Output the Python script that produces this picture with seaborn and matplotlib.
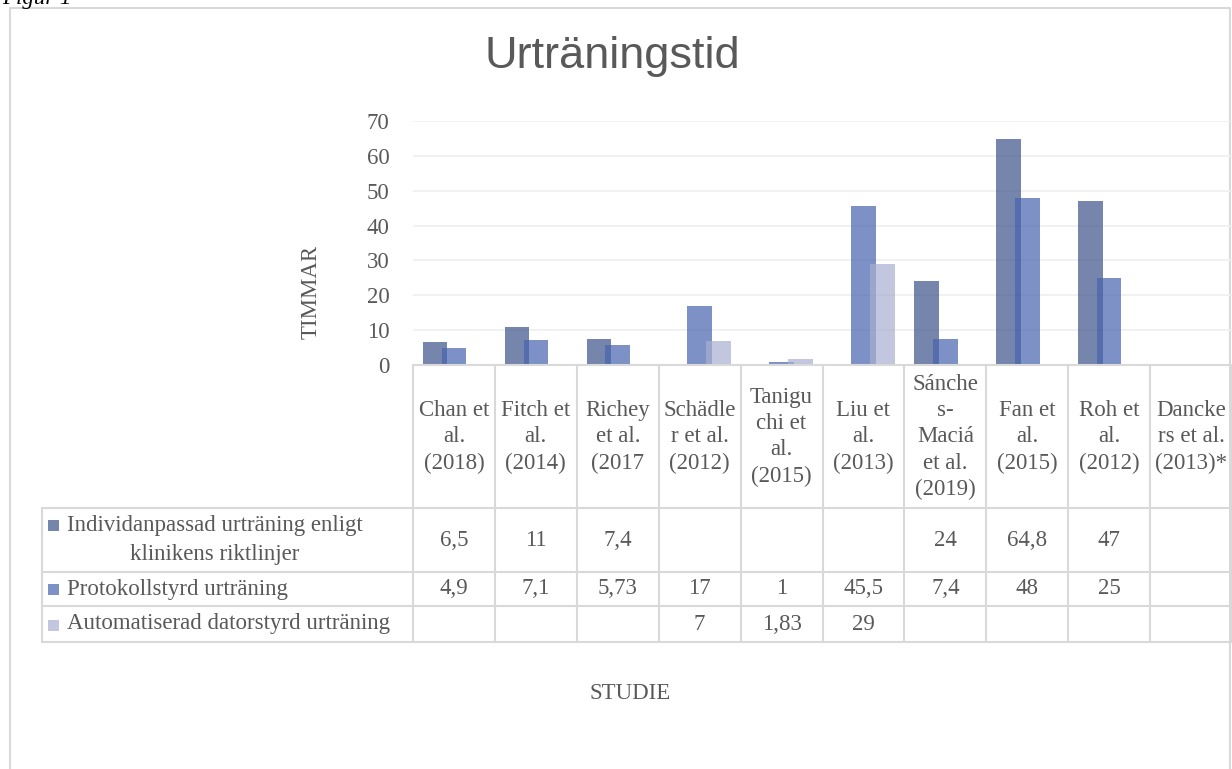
import numpy as np
import pandas as pd
import matplotlib
matplotlib.use('Agg')
import matplotlib.pyplot as plt
import seaborn as sns
from matplotlib.patches import Rectangle
from matplotlib.transforms import blended_transform_factory

studier = ['Chan et\nal.\n(2018)', 'Fitch et\nal.\n(2014)', 'Richey\net al.\n(2017', 'Schädle\nr et al.\n(2012)',
           'Tanigu\nchi et\nal.\n(2015)', 'Liu et\nal.\n(2013)', 'Sánche\ns-\nMaciá\net al.\n(2019)',
           'Fan et\nal.\n(2015)', 'Roh et\nal.\n(2012)', 'Dancke\nrs et al.\n(2013)*']
serier = ['Individanpassad urträning enligt\nklinikens riktlinjer', 'Protokollstyrd urträning',
          'Automatiserad datorstyrd urträning']
individ = [6.5, 11, 7.4, np.nan, np.nan, np.nan, 24, 64.8, 47, np.nan]
protokoll = [4.9, 7.1, 5.73, 17, 1, 45.5, 7.4, 48, 25, np.nan]
automat = [np.nan, np.nan, np.nan, 7, 1.83, 29, np.nan, np.nan, np.nan, np.nan]
yticks = [0, 10, 20, 30, 40, 50, 60, 70]
farger = ['#3B5288', '#4763AE', '#A8AFD0']

grey = '#595959'
linjefarg = '#D9D9D9'

sns.set_style('white')
plt.rcParams['font.family'] = ['Liberation Serif', 'DejaVu Serif']

df = pd.DataFrame({'studie': studier * 3,
                   'serie': np.repeat(serier, len(studier)),
                   'timmar': individ + protokoll + automat})

fig = plt.figure(figsize=(12.32, 7.69), dpi=100)
bg = fig.add_axes([0, 0, 1, 1])
bg.set_xlim(0, 1232)
bg.set_ylim(769, 0)
bg.axis('off')

ax = fig.add_axes([413 / 1232, 1 - 365 / 769, 819 / 1232, 244 / 769])
ax.set_facecolor('none')
sns.barplot(data=df, x='studie', y='timmar', hue='serie', order=studier, hue_order=serier,
            palette=farger, dodge=True, width=0.69, alpha=0.7, saturation=1,
            errorbar=None, legend=False, linewidth=0, ax=ax)
# Excel-style overlapping bars
for p in ax.patches:
    cx = p.get_x() + p.get_width() / 2
    p.set_width(0.30)
    p.set_x(cx - 0.15)

ax.set_xlim(-0.5, len(studier) - 0.5)
ax.set_ylim(0, 70)
ax.set_yticks(yticks)
ax.set_yticklabels([str(t) for t in yticks], fontsize=16.5, color=grey)
ax.tick_params(axis='y', length=0, pad=17)
ax.set_xticks([])
ax.set_axisbelow(True)
ax.yaxis.grid(True, color='#EFEFEF', lw=1.2)
for s in ['top', 'right', 'left']:
    ax.spines[s].set_visible(False)
ax.spines['bottom'].set_color(linjefarg)
ax.spines['bottom'].set_linewidth(1.5)

ax.set_ylabel('TIMMAR', fontsize=16.5, color=grey)
ax.yaxis.set_label_coords((322 - 413) / 819, (365 - 292) / 244)
ax.set_xlabel('STUDIE', fontsize=16.5, color=grey)
ax.xaxis.set_label_coords((630 - 413) / 819, (365 - 683) / 244)

# data table under the chart
tr = blended_transform_factory(ax.transData, bg.transData)
x_bounds = np.arange(len(studier) + 1) - 0.5
for xb in x_bounds:
    bg.plot([xb, xb], [365, 642], color=linjefarg, lw=1.5, transform=tr, clip_on=False)
for yb in [508, 572, 606, 642]:
    bg.plot([42, 1232], [yb, yb], color=linjefarg, lw=1.5)
bg.plot([42, 42], [508, 642], color=linjefarg, lw=1.5)

for i, s in enumerate(studier):
    bg.text(i, 437, s, transform=tr, ha='center', va='center', fontsize=16.5,
            color=grey, linespacing=1.32)

rad_y = [540, 589, 624]
ruta_y = [525, 589, 625]
for rad, (namn, varden, farg) in enumerate(zip(serier, [individ, protokoll, automat], farger)):
    bg.add_patch(Rectangle((48, ruta_y[rad] - 5.5), 11, 11, color=farg, alpha=0.7, lw=0))
    bg.text(67, rad_y[rad], namn, ha='left', va='center', multialignment='center',
            fontsize=16.5, color=grey, linespacing=1.55)
    for i, v in enumerate(varden):
        if not np.isnan(v):
            bg.text(i, rad_y[rad], f'{v:g}'.replace('.', ','), transform=tr, ha='center',
                    va='center', fontsize=16.5, color=grey)

# chart frame, title and caption
bg.plot([10, 10, 1230, 1230], [769, 8, 8, 769], color=linjefarg, lw=1.5)
fig.text(612 / 1232, 1 - 68 / 769, 'Urträningstid', ha='center', va='baseline',
         fontsize=32.5, color=grey, family=['Liberation Sans', 'DejaVu Sans'])
fig.text(2 / 1232, 1 - 4 / 769, 'Figur 1', ha='left', va='baseline', fontsize=16.5,
         style='italic', color='black')

fig.savefig('out.png', dpi=100)
